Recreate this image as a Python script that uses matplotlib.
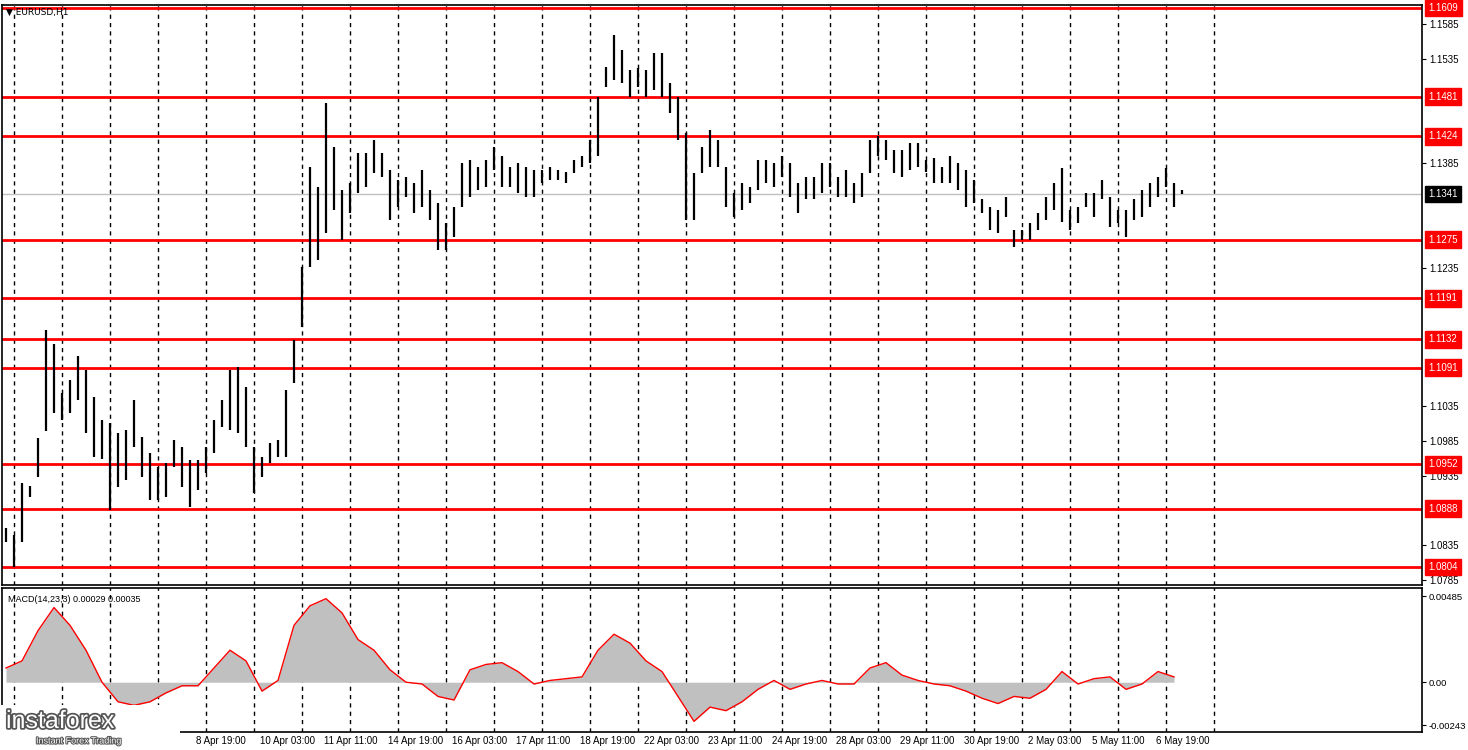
import matplotlib
matplotlib.use("Agg")
import matplotlib.pyplot as plt
import matplotlib.patheffects as pe
import numpy as np

plt.rcParams['font.family'] = ['Liberation Sans', 'DejaVu Sans']

W, H = 1468, 750

# 4-hour bars (high, low)
highs = [1.0860,1.0850,1.0925,1.0920,1.0990,1.1145,1.1125,1.1055,1.1073,1.1107,
         1.1088,1.1049,1.1016,1.1011,1.0997,1.1001,1.1045,1.0991,1.0968,1.0948,
         1.0954,1.0987,1.0977,1.0958,1.0958,1.0977,1.1016,1.1045,1.1088,1.1092,
         1.1063,1.0977,1.0962,1.0983,1.0987,1.1059,1.1131,1.1236,1.1380,1.1351,
         1.1472,1.1409,1.1347,1.1357,1.1400,1.1400,1.1419,1.1400,1.1376,1.1361,
         1.1366,1.1357,1.1376,1.1347,1.1328,1.1299,1.1322,1.1386,1.1390,1.1380,
         1.1390,1.1409,1.1395,1.1380,1.1386,1.1380,1.1376,1.1376,1.1380,1.1376,
         1.1373,1.1390,1.1395,1.1419,1.1481,1.1524,1.1570,1.1548,1.1520,1.1522,
         1.1520,1.1544,1.1544,1.1501,1.1481,1.1429,1.1371,1.1409,1.1433,1.1419,
         1.1380,1.1343,1.1357,1.1351,1.1390,1.1390,1.1386,1.1395,1.1386,1.1357,
         1.1366,1.1366,1.1386,1.1386,1.1366,1.1376,1.1357,1.1371,1.1419,1.1424,
         1.1419,1.1404,1.1404,1.1414,1.1414,1.1390,1.1393,1.1380,1.1395,1.1386,
         1.1376,1.1361,1.1333,1.1322,1.1318,1.1337,1.1289,1.1289,1.1299,1.1314,
         1.1337,1.1357,1.1379,1.1318,1.1322,1.1343,1.1343,1.1361,1.1337,1.1318,
         1.1318,1.1333,1.1347,1.1357,1.1366,1.1379,1.1357,1.1347]
lows = [1.0840,1.0804,1.0840,1.0905,1.0933,1.1000,1.1025,1.1015,1.1025,1.1045,
        1.0997,1.0962,1.0960,1.0886,1.0919,1.0929,1.0977,1.0933,1.0900,1.0900,
        1.0905,1.0948,1.0919,1.0890,1.0915,1.0939,1.0968,1.1006,1.1001,1.0997,
        1.0977,1.0910,1.0933,1.0954,1.0962,1.0962,1.1069,1.1150,1.1236,1.1246,
        1.1285,1.1318,1.1275,1.1314,1.1343,1.1351,1.1371,1.1366,1.1304,1.1322,
        1.1337,1.1314,1.1322,1.1304,1.1261,1.1261,1.1279,1.1322,1.1337,1.1347,
        1.1351,1.1376,1.1351,1.1351,1.1343,1.1337,1.1337,1.1357,1.1361,1.1361,
        1.1357,1.1371,1.1380,1.1386,1.1395,1.1495,1.1505,1.1501,1.1481,1.1495,
        1.1481,1.1491,1.1481,1.1458,1.1419,1.1304,1.1304,1.1371,1.1380,1.1380,
        1.1322,1.1308,1.1318,1.1328,1.1347,1.1357,1.1351,1.1366,1.1337,1.1314,
        1.1333,1.1333,1.1343,1.1351,1.1337,1.1337,1.1328,1.1337,1.1371,1.1395,
        1.1390,1.1371,1.1366,1.1376,1.1380,1.1373,1.1357,1.1357,1.1357,1.1347,
        1.1322,1.1328,1.1314,1.1289,1.1285,1.1308,1.1265,1.1275,1.1275,1.1289,
        1.1304,1.1318,1.1301,1.1289,1.1299,1.1322,1.1308,1.1333,1.1294,1.1299,
        1.1279,1.1304,1.1308,1.1322,1.1337,1.1351,1.1322,1.1341]

# MACD values every 8 hours
macd = [0.0008,0.0012,0.0029,0.0042,0.0032,0.0018,0.0000,-0.0011,-0.0013,-0.0011,
        -0.0006,-0.0002,-0.0002,0.0008,0.0018,0.0012,-0.0005,0.0001,0.0032,0.0043,
        0.0047,0.0039,0.0024,0.0018,0.0007,0.0000,-0.0001,-0.0008,-0.0010,0.0007,
        0.0010,0.0011,0.0006,-0.0001,0.0001,0.0002,0.0003,0.0018,0.0027,0.0022,
        0.0012,0.0006,-0.0008,-0.0022,-0.0014,-0.0016,-0.0011,-0.0004,0.0001,-0.0004,
        -0.0001,0.0001,-0.0001,-0.0001,0.0008,0.0011,0.0004,0.0001,-0.0001,-0.0002,
        -0.0005,-0.0009,-0.0012,-0.0008,-0.0009,-0.0004,0.0006,-0.0001,0.0002,0.0003,
        -0.0004,-0.0001,0.0006,0.0003]

levels = [1.1609,1.1481,1.1424,1.1275,1.1191,1.1132,1.1091,1.0952,1.0888,1.0804]
current = 1.1341
price_ticks = [1.1585,1.1535,1.1385,1.1235,
               1.1035,1.0985,1.0935,1.0835,1.0785]
time_labels = ["8 Apr 19:00","10 Apr 03:00",
               "11 Apr 11:00","14 Apr 19:00","16 Apr 03:00","17 Apr 11:00","18 Apr 19:00",
               "22 Apr 03:00","23 Apr 11:00","24 Apr 19:00","28 Apr 03:00","29 Apr 11:00",
               "30 Apr 19:00","2 May 03:00","5 May 11:00","6 May 19:00"]

fig = plt.figure(figsize=(W/100, H/100), dpi=100)
def ax_px(x0, y0, x1, y1):
    return fig.add_axes([x0/W, 1-y1/H, (x1-x0)/W, (y1-y0)/H])

ax = ax_px(2, 5, 1422, 585)
ax2 = ax_px(2, 588, 1422, 732)
XMAX = 710
for a in (ax, ax2):
    a.set_xlim(0, XMAX)
    a.set_xticks([])
    for s in a.spines.values():
        s.set_linewidth(1.2); s.set_color("black")
    for k in range(26):
        a.axvline(6 + 24*k, color="black", lw=1, ls=(0, (3, 3)), zorder=1)

ax.set_ylim(1.0778, 1.1613)
hx = 2 + 4*np.arange(len(highs))
ax.vlines(hx, lows, highs, color="black", lw=1.6, zorder=3)
for lv in levels:
    ax.axhline(lv, color="#ff0000", lw=2, zorder=2)
ax.axhline(current, color="#c0c0c0", lw=1, zorder=1.5)

ax.yaxis.tick_right()
ax.set_yticks(price_ticks)
ax.set_yticklabels([f"{p:.4f}" for p in price_ticks], fontsize=7)
ax.tick_params(axis="y", length=3, pad=2)

def box(a, y, txt, fc):
    a.text(1.0045, y, txt, transform=a.get_yaxis_transform(), fontsize=7, color="white",
           va="center", ha="left", zorder=10, clip_on=False,
           bbox=dict(boxstyle="square,pad=0.35", fc=fc, ec=fc))
for lv in levels:
    box(ax, lv, f"{lv:.4f}", "#ff0000")
box(ax, current, f"{current:.4f}", "black")

ax.text(0.003, 0.995, "▼ EURUSD,H1", transform=ax.transAxes, fontsize=6.5, va="top",
        family=['DejaVu Sans'])

# MACD
ax2.set_ylim(-0.0028, 0.0053)
mx = 2 + 8*np.arange(len(macd))
ax2.fill_between(mx, 0, macd, color="#c0c0c0", zorder=2, lw=0)
ax2.plot(mx, macd, color="#ff0000", lw=1, zorder=3)
ax2.yaxis.tick_right()
ax2.set_yticks([0.00485, 0.0, -0.00243])
ax2.set_yticklabels(["0.00485", "0.00", "-0.00243"], fontsize=6.8)
ax2.tick_params(axis="y", length=3, pad=2)
ax2.text(0.004, 0.95, "MACD(14,23,3) 0.00029 0.00035", transform=ax2.transAxes,
         fontsize=6.5, va="top")

for k, lab in enumerate(time_labels):
    h = 1 + 32*(k + 3)
    fig.text((2 + 2*h)/W, 1-741/H, lab, fontsize=7, va="center", ha="left")

# logo
fig.patches.append(plt.Rectangle((0, 0), 180/W, 45/H, transform=fig.transFigure,
                                 fc="white", ec="none", zorder=20))
t = fig.text(6/W, 1-721/H, "instaforex", fontsize=18, color="white", va="center", zorder=21)
t.set_path_effects([pe.withStroke(linewidth=2.5, foreground="#555555")])
t2 = fig.text(36/W, 1-741/H, "Instant Forex Trading", fontsize=6.5, color="white",
              va="center", zorder=21)
t2.set_path_effects([pe.withStroke(linewidth=1.5, foreground="#555555")])

fig.savefig("out.png", dpi=100, facecolor="white")
